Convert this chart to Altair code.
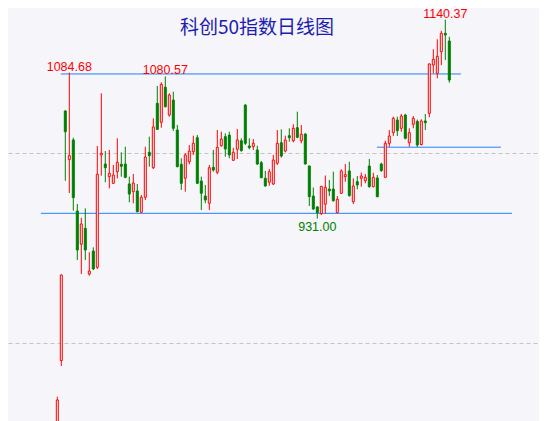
import altair as alt
import pandas as pd

# ---- data (科创50 daily candles) ----
opens = [690.0, 781.4, 1044.2, 993.0, 1013.7, 938.9, 903.9, 920.7, 872.6, 896.8,
         879.7, 997.9, 988.4, 975.1, 968.1, 980.3, 988.1, 988.4, 967.4, 959.3,
         960.0, 937.6, 953.4, 1000.7, 984.5, 1052.3, 1032.3, 1069.2, 1040.0, 1055.8,
         1024.2, 988.1, 973.4, 990.8, 1001.4, 1016.1, 970.5, 954.7, 947.1, 984.9,
         979.7, 1007.7, 1017.2, 1018.9, 992.3, 1003.9, 1012.9, 1050.5, 1007.4, 1006.6,
         1003.2, 989.8, 973.4, 969.2, 967.4, 989.2, 1010.8, 1002.1, 1018.2, 1012.9,
         1026.6, 1012.9, 1020.0, 986.3, 954.7, 943.2, 936.3, 946.1, 962.1, 962.1,
         937.2, 957.6, 975.1, 981.1, 948.7, 969.8, 973.4, 970.8, 986.3, 964.5,
         973.7, 988.4, 974.4, 1010.2, 1021.4, 1034.7, 1026.0, 1040.0, 1010.8, 1030.2,
         1033.2, 1008.9, 1033.7, 1041.8, 1092.6, 1083.9, 1106.6, 1126.0, 1117.9]
closes = [740.0, 871.6, 1022.4, 997.2, 953.0, 897.9, 925.3, 897.9, 875.8, 877.9,
          977.6, 999.7, 984.5, 978.6, 976.8, 990.2, 986.0, 974.4, 956.8, 968.4,
          938.2, 953.4, 995.8, 997.2, 1027.4, 1024.9, 1072.3, 1048.7, 1061.1, 1026.0,
          985.6, 968.1, 997.9, 1002.1, 1010.2, 968.1, 957.6, 950.5, 984.5, 982.1,
          1006.0, 1014.7, 1004.2, 997.9, 1000.7, 1013.7, 1002.4, 1010.2, 1005.6, 1010.2,
          988.4, 974.0, 965.3, 980.3, 992.6, 1010.2, 996.8, 1013.7, 1016.1, 1026.0,
          1016.5, 1019.7, 988.4, 954.0, 941.1, 937.2, 964.9, 963.9, 960.0, 949.8,
          951.3, 981.1, 977.2, 955.1, 965.3, 966.3, 975.8, 974.4, 964.5, 974.4,
          954.0, 981.4, 1010.2, 1017.9, 1036.5, 1023.5, 1038.9, 1015.5, 1021.4, 1036.5,
          1008.4, 1033.7, 1031.9, 1093.7, 1098.6, 1101.8, 1126.0, 1124.2, 1076.8]
highs = [743.5, 872.0, 1045.0, 1084.68, 1016.1, 946.3, 931.9, 941.8, 895.5, 900.7,
         1007.4, 1062.8, 1002.1, 1003.2, 987.4, 1015.5, 1000.7, 1006.6, 975.1, 977.9,
         967.4, 955.8, 1006.6, 1017.2, 1036.5, 1070.5, 1074.4, 1080.57, 1062.8, 1064.5,
         1029.5, 994.4, 999.7, 1008.4, 1018.2, 1018.9, 975.1, 966.3, 987.4, 1003.2,
         1024.2, 1022.4, 1020.7, 1022.4, 1005.5, 1025.3, 1015.5, 1051.3, 1015.5, 1014.7,
         1007.7, 991.6, 981.1, 983.2, 997.9, 1024.2, 1024.9, 1018.2, 1026.0, 1030.2,
         1043.5, 1029.5, 1020.7, 986.8, 963.7, 944.2, 965.3, 976.3, 971.6, 980.3,
         954.7, 982.8, 988.4, 990.8, 973.4, 975.8, 979.3, 977.9, 993.7, 979.3,
         976.8, 989.8, 1012.9, 1024.2, 1038.2, 1038.2, 1041.1, 1041.1, 1026.0, 1038.9,
         1035.1, 1035.5, 1041.1, 1094.4, 1109.2, 1119.7, 1128.7, 1140.37, 1122.4]
lows = [686.0, 775.8, 970.8, 957.9, 939.3, 887.4, 872.6, 887.4, 870.8, 876.8,
        877.9, 976.1, 969.2, 962.8, 967.4, 973.4, 975.1, 973.4, 948.1, 947.1,
        937.5, 936.8, 950.5, 985.6, 983.2, 1024.2, 1026.6, 1048.0, 1038.2, 1023.2,
        985.0, 961.1, 959.3, 988.1, 997.9, 967.5, 940.0, 947.1, 940.0, 980.3,
        977.6, 1006.6, 996.1, 994.4, 991.9, 993.7, 1001.4, 1008.4, 1003.9, 1003.2,
        987.4, 973.5, 964.5, 965.6, 966.3, 987.4, 995.1, 1000.7, 1011.9, 1011.3,
        1015.5, 1010.2, 988.1, 944.2, 940.0, 931.00, 934.7, 936.3, 954.7, 948.7,
        936.8, 956.8, 969.8, 954.0, 946.3, 961.8, 964.5, 968.1, 963.5, 963.9,
        953.5, 980.3, 973.7, 1006.6, 1017.9, 1017.9, 1022.4, 1014.4, 1006.6, 1026.0,
        1006.3, 1007.9, 1024.2, 1037.6, 1083.9, 1078.6, 1092.6, 1097.9, 1074.0]

# support / resistance lines (price level, first and last candle index spanned)
line_levels = [1083.2, 936.5, 1006.1]
line_from = [0.9, -4.1, 79.9]
line_to = [100.9, 113.7, 110.9]

# annotated extremes
label_idx = [3, 27, 97, 65]
label_val = [1084.68, 1080.57, 1140.37, 931.00]
label_txt = ["1084.68", "1080.57", "1140.37", "931.00"]
label_kind = ["high", "high", "high", "low"]

title_text = "科创50指数日线图"

BG = "#f5f5fa"
RED = "#ff0000"
GREEN = "#008000"
BLUE = "#2080ff"

W, H = 531, 413
X_DOMAIN = [-12.325, 120.425]
Y_DOMAIN = [717.89, 1152.63]

df = pd.DataFrame({
    "i": list(range(len(opens))),
    "open": opens, "close": closes, "high": highs, "low": lows,
})
df["dir"] = ["up" if c >= o else "down" for o, c in zip(opens, closes)]

xs = alt.Scale(domain=X_DOMAIN, nice=False, zero=False, padding=0)
ys = alt.Scale(domain=Y_DOMAIN, nice=False, zero=False, padding=0)

dir_dom = ["up", "down"]
color_stroke = alt.Color("dir:N", scale=alt.Scale(domain=dir_dom, range=[RED, GREEN]), legend=None)
color_fill = alt.Fill("dir:N", scale=alt.Scale(domain=dir_dom, range=[BG, GREEN]), legend=None)

base = alt.Chart(df)

grid = base.mark_point(opacity=0).encode(
    x=alt.X("i:Q", scale=xs, axis=None),
    y=alt.Y("close:Q", scale=ys, axis=alt.Axis(
        values=[800, 1000], grid=True, gridDash=[4, 3], gridColor="#c4c4c4",
        gridWidth=1, labels=False, ticks=False, domain=False, title=None)),
)

wicks = base.mark_rule(strokeWidth=1, clip=True).encode(
    x=alt.X("i:Q", scale=xs),
    y=alt.Y("low:Q", scale=ys),
    y2="high:Q",
    color=color_stroke,
)

bodies = base.mark_bar(width=2, strokeWidth=1, clip=True).encode(
    x=alt.X("i:Q", scale=xs),
    y=alt.Y("open:Q", scale=ys),
    y2="close:Q",
    fill=color_fill,
    stroke=alt.Stroke("dir:N", scale=alt.Scale(domain=dir_dom, range=[RED, GREEN]), legend=None),
)

lines_df = pd.DataFrame({"level": line_levels, "x0": line_from, "x1": line_to})
hlines = alt.Chart(lines_df).mark_rule(color=BLUE, strokeWidth=1).encode(
    x=alt.X("x0:Q", scale=xs), x2="x1:Q", y=alt.Y("level:Q", scale=ys),
)

lab_df = pd.DataFrame({"i": label_idx, "v": label_val, "t": label_txt, "k": label_kind})
hi_labels = alt.Chart(lab_df).transform_filter(alt.datum.k == "high").mark_text(
    font="Liberation Sans", fontSize=12.5, color=RED, baseline="alphabetic", dy=-2, align="center"
).encode(x=alt.X("i:Q", scale=xs), y=alt.Y("v:Q", scale=ys), text="t:N")
lo_labels = alt.Chart(lab_df).transform_filter(alt.datum.k == "low").mark_text(
    font="Liberation Sans", fontSize=12.5, color=GREEN, baseline="alphabetic", dy=12, align="center"
).encode(x=alt.X("i:Q", scale=xs), y=alt.Y("v:Q", scale=ys), text="t:N")

chart = alt.layer(grid, hlines, wicks, bodies, hi_labels, lo_labels).properties(
    width=W, height=H,
    title=alt.TitleParams(title_text, anchor="middle", orient="top", offset=-49,
                          dx=-16.5, fontSize=19, font="Noto Sans CJK SC",
                          fontWeight="normal", color="#1c1cb0", baseline="bottom"),
    autosize=alt.AutoSizeParams(type="none"),
    padding=0,
    background=BG,
).configure_view(stroke=None, fill=BG)

chart.save("out.html", embed_options={"renderer": "svg", "actions": False})
